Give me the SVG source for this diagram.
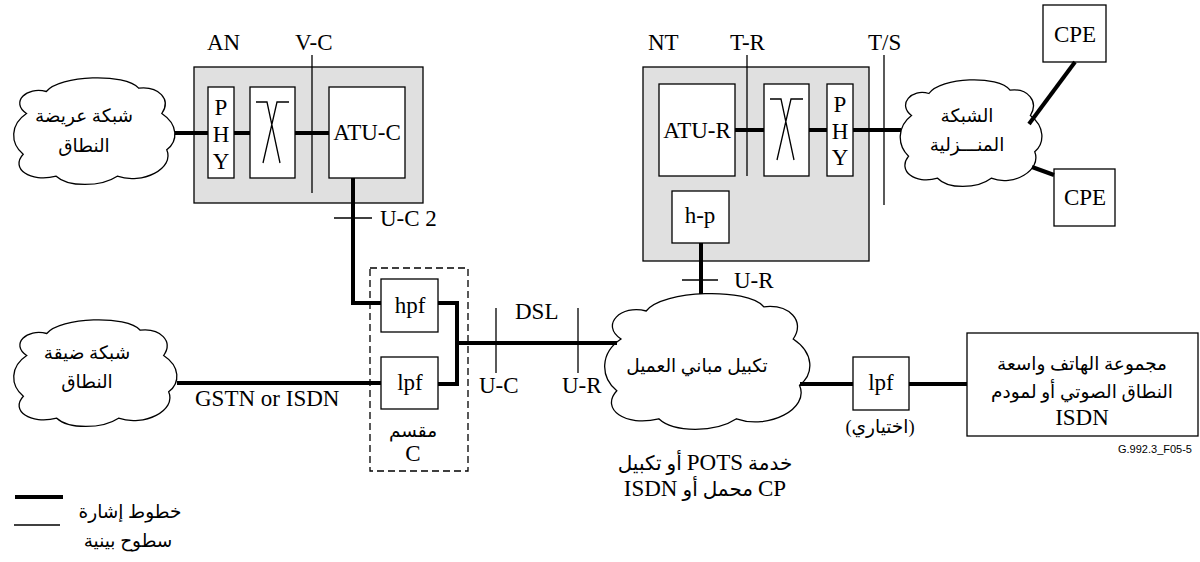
<svg xmlns="http://www.w3.org/2000/svg" width="1200" height="562" viewBox="0 0 1200 562">
<defs>
<path id="cloudShape" vector-effect="non-scaling-stroke" d="M10,35 C0,25 10,10 22,15 C30,0 70,-2 78,12 C90,10 98,22 92,35 C102,45 102,60 95,68 C100,85 80,100 65,92 C55,102 35,102 28,92 C12,98 0,85 8,72 C0,62 0,45 10,35 Z"/>
<path id="xo" d="M6,15 H17 L30,76 M39,15 H27 L13,76"/>
</defs>
<style>
.gray{fill:#e0e0e0;stroke:#000;stroke-width:1.3}
.box{fill:#fff;stroke:#000;stroke-width:1.3}
.dash{fill:none;stroke:#000;stroke-width:1.3;stroke-dasharray:7,4}
.thick{stroke:#000;stroke-width:4;fill:none}
.thin{stroke:#000;stroke-width:1.3;fill:none}
.cloud{fill:#fff;stroke:#000;stroke-width:1.3}
.lat{font-family:"Liberation Serif","Times New Roman",serif;font-size:23px;fill:#000}
.ar{font-family:"Liberation Serif","DejaVu Sans",sans-serif;font-size:18.5px;fill:#000}
.cap{font-family:"Liberation Serif","DejaVu Sans",sans-serif;font-size:20px;fill:#000}
.big{font-size:23px}
.mid{text-anchor:middle}
.note{font-family:"Liberation Sans",Arial,sans-serif;font-size:11px;fill:#000}
</style>
<rect x="0" y="0" width="1200" height="562" fill="#fff"/>

<g id="wideband-network">
<use href="#cloudShape" class="cloud" transform="translate(10,75) scale(1.65,1.1)"/>
<text class="ar mid" x="84" y="122" direction="rtl">شبكة عريضة</text>
<text class="ar mid" x="84" y="152" direction="rtl">النطاق</text>
</g>

<g id="narrowband-network">
<use href="#cloudShape" class="cloud" transform="translate(10,317) scale(1.67,1.1)"/>
<text class="ar mid" x="87" y="359" direction="rtl">شبكة ضيقة</text>
<text class="ar mid" x="87" y="388" direction="rtl">النطاق</text>
</g>

<g id="AN">
<rect class="gray" x="194" y="67" width="229" height="136"/>
<text class="lat" x="207" y="50">AN</text>
<rect class="box" x="208" y="87" width="26" height="91"/>
<text class="lat mid" x="221" y="115">P</text>
<text class="lat mid" x="221" y="142">H</text>
<text class="lat mid" x="221" y="169">Y</text>
<rect class="box" x="250" y="87" width="45" height="91"/>
<use href="#xo" class="thin" x="250" y="87"/>
<rect class="box" x="329" y="87" width="76" height="91"/>
<text class="lat mid" x="367" y="140">ATU-C</text>
</g>

<g id="splitter">
<rect class="dash" x="370" y="268" width="98" height="203"/>
<rect class="box" x="381" y="279" width="57" height="53"/>
<text class="lat mid" x="410" y="313">hpf</text>
<rect class="box" x="381" y="357" width="57" height="52"/>
<text class="lat mid" x="410" y="390">lpf</text>
<text class="ar mid" x="413" y="437" direction="rtl">مقسم</text>
<text class="lat mid" x="413" y="461">C</text>
</g>

<g id="NT">
<rect class="gray" x="643" y="67" width="226" height="194"/>
<text class="lat" x="648" y="50">NT</text>
<rect class="box" x="659" y="84" width="76" height="92"/>
<text class="lat mid" x="697" y="138">ATU-R</text>
<rect class="box" x="764" y="84" width="45" height="92"/>
<use href="#xo" class="thin" x="764" y="84"/>
<rect class="box" x="827" y="84" width="26" height="92"/>
<text class="lat mid" x="840" y="112">P</text>
<text class="lat mid" x="840" y="139">H</text>
<text class="lat mid" x="840" y="165">Y</text>
<rect class="box" x="672" y="191" width="57" height="52"/>
<text class="lat mid" x="700" y="223">h-p</text>
</g>

<g id="home-network">
<use href="#cloudShape" class="cloud" transform="translate(897,77) scale(1.45,1.1)"/>
<text class="ar mid" x="967" y="122" direction="rtl">الشبكة</text>
<text class="ar mid" x="967" y="151" direction="rtl">المنـــزلية</text>
</g>

<g id="CPE1">
<rect class="box" x="1043" y="5" width="63" height="57"/>
<text class="lat mid" x="1075" y="42">CPE</text>
</g>

<g id="CPE2">
<rect class="box" x="1054" y="169" width="61" height="57"/>
<text class="lat mid" x="1085" y="205">CPE</text>
</g>

<g id="customer-wiring">
<use href="#cloudShape" class="cloud" transform="translate(600,290) scale(2.1,1.4)"/>
<text class="ar mid" x="697" y="372" direction="rtl">تكبيل مباني العميل</text>
</g>

<g id="lpf-optional">
<rect class="box" x="853" y="357" width="56" height="53"/>
<text class="lat mid" x="881" y="390">lpf</text>
<text class="ar mid" x="880" y="433" direction="rtl">(اختياري)</text>
</g>

<g id="phone-set">
<rect class="box" x="967" y="333" width="231" height="103"/>
<text class="ar mid" x="1082" y="370" direction="rtl">مجموعة الهاتف واسعة</text>
<text class="ar mid" x="1082" y="398" direction="rtl">النطاق الصوتي أو لمودم</text>
<text class="lat mid" x="1082" y="425">ISDN</text>
</g>

<g id="connectors">
<path class="thick" d="M175,133 H208 M234,133 H250 M295,133 H329"/>
<path class="thick" d="M353,178 V303 H381"/>
<path class="thick" d="M438,303 H457 V384 H438"/>
<path class="thick" d="M457,343 H617"/>
<path class="thick" d="M177,383 H381"/>
<path class="thick" d="M735,130 H764 M809,130 H827 M853,130 H901"/>
<path class="thick" d="M701,243 V294"/>
<path class="thick" d="M1075,62 L1029,124"/>
<path class="thick" d="M1032,167 L1054,175"/>
<path class="thick" d="M800,384 H853 M909,384 H967"/>
</g>

<g id="interfaces">
<path class="thin" d="M312,55 V193"/>
<text class="lat" x="295" y="50">V-C</text>
<path class="thin" d="M334,218 H372"/>
<text class="lat" x="380" y="226">U-C 2</text>
<path class="thin" d="M496,308 V373"/>
<text class="lat" x="479" y="393">U-C</text>
<path class="thin" d="M578,308 V373"/>
<text class="lat" x="562" y="393">U-R</text>
<text class="lat" x="515" y="319">DSL</text>
<text class="lat" x="195" y="406">GSTN or ISDN</text>
<path class="thin" d="M747,55 V176"/>
<text class="lat" x="730" y="50">T-R</text>
<path class="thin" d="M884,55 V205"/>
<text class="lat" x="868" y="50">T/S</text>
<path class="thin" d="M682,280 H718"/>
<text class="lat" x="734" y="288">U-R</text>
</g>

<g id="captions">
<text class="cap mid" x="705" y="470" direction="rtl">خدمة <tspan class="big">POTS</tspan> أو تكبيل</text>
<text class="cap mid" x="705" y="496" direction="rtl"><tspan class="big">CP</tspan> محمل أو <tspan class="big">ISDN</tspan></text>
<text class="note" x="1192" y="453" text-anchor="end">G.992.3_F05-5</text>
</g>

<g id="legend">
<path class="thick" d="M15,497 H63"/>
<path class="thin" d="M14,525 H60"/>
<text class="ar mid" x="130" y="518" direction="rtl">خطوط إشارة</text>
<text class="ar mid" x="128" y="547" direction="rtl">سطوح بينية</text>
</g>
</svg>
